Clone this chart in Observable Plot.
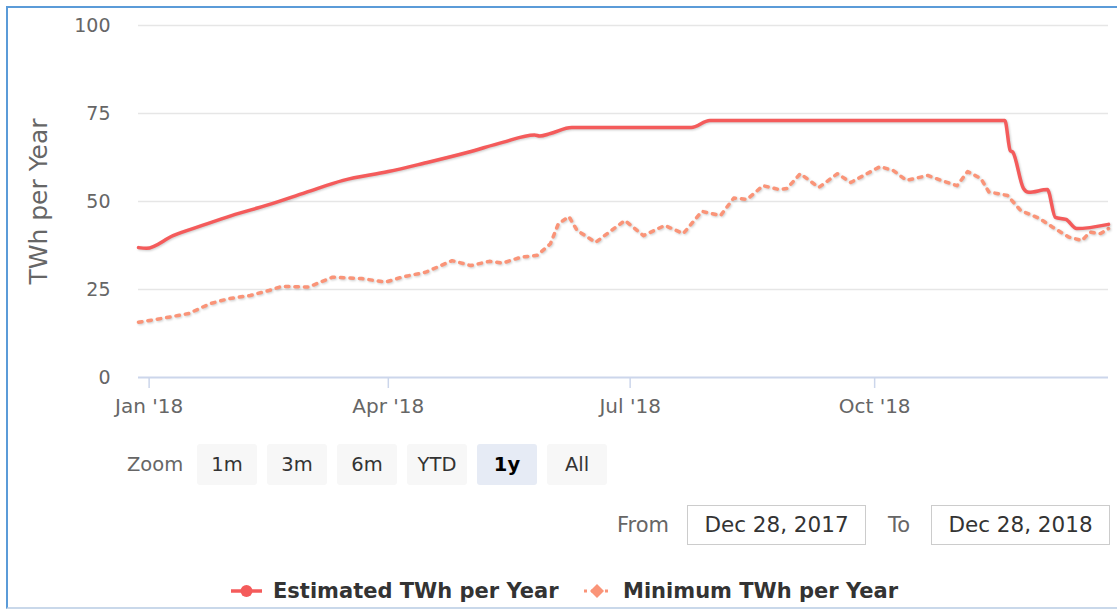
<!DOCTYPE html>
<html>
<head>
<meta charset="utf-8">
<script src="https://cdn.jsdelivr.net/npm/d3@7"></script>
<script src="https://cdn.jsdelivr.net/npm/@observablehq/plot@0.6"></script>
<style>
  html, body { margin: 0; padding: 0; background: #fff; }
  body { width: 1117px; height: 612px; overflow: hidden; font-family: "DejaVu Sans", "Lucida Grande", Verdana, sans-serif; }
  #wrap { position: relative; width: 1117px; height: 612px; }
  #frame { position: absolute; left: 6px; top: 6px; width: 1120px; height: 603px; border-left: 2px solid #5b9bd8; border-top: 2px solid #5b9bd8; border-bottom: 2px solid #c9d8ea; box-sizing: border-box; }
  #chart { position: absolute; left: 0; top: 0; }
  .rs { position: absolute; top: 444px; height: 41px; line-height: 41px; }
  .lbl { color: #666; font-size: 19.5px; }
  .btn { position: absolute; top: 444px; width: 60px; height: 41px; line-height: 41px; text-align: center; background: #f7f7f7; border-radius: 3px; color: #333; font-size: 19.5px; }
  .btn.sel { background: #e6ebf5; font-weight: bold; color: #000; }
  .inp { position: absolute; top: 505px; height: 40px; line-height: 38px; box-sizing: border-box; border: 1.5px solid #cccccc; color: #333; font-size: 21.5px; text-align: center; }
  .dl { position: absolute; top: 505px; height: 40px; line-height: 40px; color: #666; font-size: 21px; }
  #legend { position: absolute; top: 575px; left: 0; width: 1117px; height: 32px; }
  .li { position: absolute; top: 0; height: 32px; line-height: 32px; font-weight: bold; color: #333; font-size: 21px; font-family: "DejaVu Sans", Verdana, sans-serif; }
  .li svg { position: absolute; top: 6px; }
</style>
</head>
<body>
<div id="wrap">
  <div id="frame"></div>
  <div id="chart"></div>
  <div id="controls"></div>
  <div id="legend"></div>
</div>
<script>
// ---- Data ----
const estDates = ["2017-12-28","2017-12-31","2018-01-10","2018-01-21","2018-02-01","2018-02-15","2018-03-01","2018-03-15","2018-04-01","2018-04-14","2018-05-01","2018-05-14","2018-05-26","2018-05-28","2018-06-01","2018-06-09","2018-07-24","2018-07-31","2018-11-19","2018-11-21","2018-11-22","2018-11-26","2018-11-28","2018-12-05","2018-12-08","2018-12-12","2018-12-16","2018-12-28"];
const estValues = [36.9,36.7,40.3,43.2,46.0,49.1,52.6,56.0,58.5,60.8,64.0,66.8,68.9,68.6,69.3,71.0,71.0,73.0,73.0,64.5,64.0,53.7,52.6,53.4,45.5,44.9,42.3,43.5];

const minDates = ["2017-12-28","2018-01-06","2018-01-16","2018-01-24","2018-01-31","2018-02-08","2018-02-15","2018-02-20","2018-03-02","2018-03-11","2018-03-22","2018-03-31","2018-04-06","2018-04-15","2018-04-25","2018-05-02","2018-05-09","2018-05-14","2018-05-21","2018-05-27","2018-06-01","2018-06-04","2018-06-08","2018-06-11","2018-06-18","2018-06-24","2018-06-29","2018-07-06","2018-07-14","2018-07-21","2018-07-28","2018-08-04","2018-08-09","2018-08-14","2018-08-20","2018-08-26","2018-08-29","2018-09-03","2018-09-10","2018-09-17","2018-09-22","2018-10-03","2018-10-08","2018-10-13","2018-10-21","2018-10-26","2018-11-01","2018-11-05","2018-11-10","2018-11-13","2018-11-20","2018-11-25","2018-12-02","2018-12-07","2018-12-13","2018-12-18","2018-12-21","2018-12-25","2018-12-28"];
const minValues = [15.7,16.8,18.2,21.0,22.4,23.3,24.7,25.9,25.7,28.5,28.1,27.1,28.5,29.9,33.2,31.8,33.0,32.5,34.2,34.7,38.0,43.7,45.7,41.8,38.4,41.8,44.6,40.3,43.2,40.9,47.2,46.0,51.0,50.6,54.5,53.4,53.7,57.9,54.0,57.9,55.4,59.9,58.8,56.0,57.4,56.0,54.5,58.5,56.5,52.7,51.7,47.4,45.2,42.7,39.9,38.9,41.3,40.9,42.3];

const yTicks = [0, 25, 50, 75, 100];
const xTickDates = ["2018-01-01","2018-04-01","2018-07-01","2018-10-01"];
const xTickLabels = ["Jan '18","Apr '18","Jul '18","Oct '18"];
const xDomain = ["2017-12-28","2018-12-28"];
const yTitle = "TWh per Year";
const seriesNames = ["Estimated TWh per Year","Minimum TWh per Year"];
const zoomButtons = ["1m","3m","6m","YTD","1y","All"];
const selectedButton = "1y";
const fromDate = "Dec 28, 2017";
const toDate = "Dec 28, 2018";

// ---- Build ----
const parse = d3.utcParse("%Y-%m-%d");
const est = estDates.map((d, i) => ({date: parse(d), value: estValues[i]}));
const mn = minDates.map((d, i) => ({date: parse(d), value: minValues[i]}));
const xt = xTickDates.map(parse);
const labelFor = new Map(xt.map((d, i) => [+d, xTickLabels[i]]));

const estColor = "#f45b5b";
const minColor = "#fa9478";

const chart = Plot.plot({
  width: 1117,
  height: 430,
  marginLeft: 138,
  marginRight: 9,
  marginTop: 25,
  marginBottom: 53,
  style: {fontFamily: "'DejaVu Sans', 'Lucida Grande', Verdana, sans-serif", background: "transparent", overflow: "visible"},
  x: {type: "utc", domain: xDomain.map(parse)},
  y: {domain: [0, 100]},
  marks: [
    Plot.gridY([25, 50, 75, 100], {stroke: "#e6e6e6", strokeOpacity: 1, strokeWidth: 1.5}),
    Plot.ruleY([0], {stroke: "#ccd6eb", strokeWidth: 2}),
    Plot.axisY({ticks: yTicks, tickSize: 0, tickPadding: 28, fontSize: 19, fill: "#666", label: null}),
    Plot.axisX({ticks: xt, tickSize: 11, stroke: "#ccd6eb", strokeWidth: 1.5, tickPadding: 10, fontSize: 20, fill: "#666", label: null, tickFormat: d => labelFor.get(+d)}),
    Plot.text([yTitle], {frameAnchor: "left", textAnchor: "middle", rotate: -90, dx: -100, fontSize: 25, fill: "#666"}),
    Plot.line(mn, {x: "date", y: "value", stroke: minColor, strokeWidth: 3.5, strokeDasharray: "3.5,6", curve: "linear"}),
    Plot.line(est, {x: "date", y: "value", stroke: estColor, strokeWidth: 3.5, curve: "monotone-x"})
  ]
});
// subtle shadows
chart.querySelectorAll("g[aria-label='line'] path").forEach(p => p.style.filter = "drop-shadow(1px 1.5px 1px rgba(0,0,0,0.2))");
document.getElementById("chart").appendChild(chart);

// Range selector
const controls = document.getElementById("controls");
const zl = document.createElement("div");
zl.className = "rs lbl"; zl.style.left = "127px"; zl.textContent = "Zoom";
controls.appendChild(zl);
zoomButtons.forEach((b, i) => {
  const el = document.createElement("div");
  el.className = "btn" + (b === selectedButton ? " sel" : "");
  el.style.left = (197 + i * 70) + "px";
  el.textContent = b;
  controls.appendChild(el);
});
const fromL = document.createElement("div");
fromL.className = "dl"; fromL.style.left = "617px"; fromL.textContent = "From";
controls.appendChild(fromL);
const fromI = document.createElement("div");
fromI.className = "inp"; fromI.style.left = "687px"; fromI.style.width = "179px"; fromI.textContent = fromDate;
controls.appendChild(fromI);
const toL = document.createElement("div");
toL.className = "dl"; toL.style.left = "888px"; toL.textContent = "To";
controls.appendChild(toL);
const toI = document.createElement("div");
toI.className = "inp"; toI.style.left = "931px"; toI.style.width = "179px"; toI.textContent = toDate;
controls.appendChild(toI);

// Legend
const legend = document.getElementById("legend");
const items = [
  {name: seriesNames[0], color: estColor, left: 231, symbol: "circle"},
  {name: seriesNames[1], color: minColor, left: 584, symbol: "diamond"}
];
items.forEach(it => {
  const d = document.createElement("div");
  d.className = "li";
  d.style.left = it.left + "px";
  d.style.paddingLeft = (it.symbol === "circle" ? 42 : 39) + "px";
  const sym = it.symbol === "circle"
    ? `<line x1="0" y1="10" x2="31" y2="10" stroke="${it.color}" stroke-width="3.5"/><circle cx="15.5" cy="10" r="6" fill="${it.color}"/>`
    : `<line x1="0" y1="10" x2="26" y2="10" stroke="${it.color}" stroke-width="3" stroke-dasharray="3,4"/><path d="M13,3 L20,10 L13,17 L6,10 Z" fill="${it.color}"/>`;
  d.innerHTML = `<svg width="31" height="20" style="left:0">${sym}</svg>`;
  d.appendChild(document.createTextNode(it.name));
  legend.appendChild(d);
});
</script>
</body>
</html>
